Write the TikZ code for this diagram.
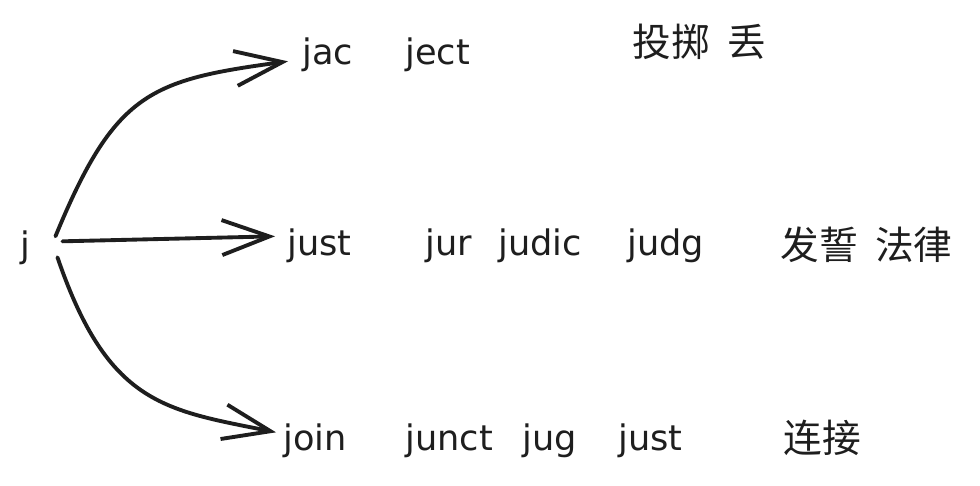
\documentclass[tikz,border=0pt]{standalone}
\usepackage{fontspec}
\setmainfont{DejaVu Sans}
\newfontfamily\cjk{Noto Sans CJK SC}
\usetikzlibrary{arrows.meta}
\definecolor{ink}{HTML}{1E1E1E}

\begin{document}
\begin{tikzpicture}[
    x=0.02cm, y=-0.02cm,
    word/.style={anchor=base west, inner sep=0pt, text=ink, font=\fontsize{20}{24}\selectfont},
    zh/.style={anchor=west, inner sep=0pt, text=ink, font=\cjk\fontsize{22}{26}\selectfont},
    line/.style={draw=ink, line width=2.2pt, line cap=round, -{Straight Barb[length=0.95cm, width=0.7cm, line width=2.2pt]}}
  ]
    \useasboundingbox (0,0) rectangle (980,485);

    \node [word] (j) at (20,257) {j};

    % first row
    \node [word] (jac) at (302,64) {jac};
    \node [word] (ject) at (405,64) {ject};
    \node [zh] (toss) at (632,42) {投掷\hspace{0.45em}丢};

    % second row
    \node [word] (just) at (287,255) {just};
    \node [word] (jur) at (425,255) {jur};
    \node [word] (judic) at (498,255) {judic};
    \node [word] (judg) at (627,255) {judg};
    \node [zh] (law) at (780,245) {发誓\hspace{0.45em}法律};

    % third row
    \node [word] (join) at (283,450) {join};
    \node [word] (junct) at (405,450) {junct};
    \node [word] (jug) at (522,450) {jug};
    \node [word] (justb) at (618,450) {just};
    \node [zh] (link) at (783,438) {连接};

    \path [line] ([xshift=0.5cm, yshift=0.22cm]j.east) .. controls (115,92) and (150,80) .. ([xshift=-0.28cm, yshift=-0.14cm]jac.west);
    \path [line] ([xshift=0.64cm, yshift=0.12cm]j.east) -- ([xshift=-0.24cm, yshift=0.18cm]just.west);
    \path [line] ([xshift=0.54cm, yshift=-0.2cm]j.east) .. controls (108,405) and (165,410) .. ([xshift=-0.14cm, yshift=0.16cm]join.west);
  \end{tikzpicture}
\end{document}
